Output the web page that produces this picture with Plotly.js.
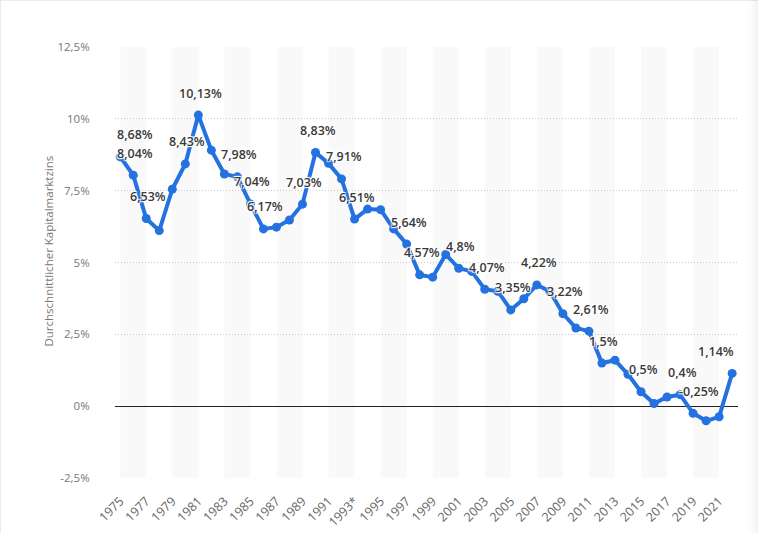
<!DOCTYPE html>
<html>
<head>
<meta charset="utf-8">
<script src="https://cdn.plot.ly/plotly-3.0.1.min.js"></script>
<style>
  html, body { margin: 0; padding: 0; background: #fff; }
  #chart { width: 758px; height: 533px; background: #fff;
    box-shadow: inset -14px 0 14px -14px rgba(0,0,0,0.10), inset 0 1px 0 #ececec, inset 1px 0 0 #ececec; }
</style>
</head>
<body>
<div id="chart"></div>
<script>
// ---- Data ----
const years = ['1975','1976','1977','1978','1979','1980','1981','1982','1983','1984',
  '1985','1986','1987','1988','1989','1990','1991','1992','1993*','1994',
  '1995','1996','1997','1998','1999','2000','2001','2002','2003','2004',
  '2005','2006','2007','2008','2009','2010','2011','2012','2013','2014',
  '2015','2016','2017','2018','2019','2020','2021','2022'];
const rates = [8.68, 8.04, 6.53, 6.11, 7.55, 8.43, 10.13, 8.91, 8.08, 7.98,
  7.04, 6.17, 6.23, 6.48, 7.03, 8.83, 8.45, 7.91, 6.51, 6.86,
  6.84, 6.17, 5.64, 4.57, 4.49, 5.28, 4.80, 4.69, 4.07, 4.00,
  3.35, 3.74, 4.22, 4.00, 3.22, 2.72, 2.61, 1.50, 1.60, 1.11,
  0.50, 0.09, 0.32, 0.40, -0.25, -0.51, -0.37, 1.14];
// years whose value is printed on the chart
const labelledYears = ['1975','1976','1977','1980','1981','1984','1985','1986','1989','1990',
  '1992','1993*','1997','1998','2001','2003','2005','2007','2009','2011',
  '2012','2015','2018','2019','2022'];
const yTickVals = [-2.5, 0, 2.5, 5, 7.5, 10, 12.5];
const yTickText = ['-2,5%', '0%', '2,5%', '5%', '7,5%', '10%', '12,5%'];
const yTitle = 'Durchschnittlicher Kapitalmarktzins';

// ---- Styling helpers ----
const labelXShift = {'1975': 15, '2019': 6, '2022': -16};
const fmt = v => (Math.round(v * 100) / 100).toString().replace('.', ',') + '%';

const annotations = labelledYears.map(y => {
  const i = years.indexOf(y);
  return {
    x: i, y: rates[i], xref: 'x', yref: 'y',
    text: fmt(rates[i]), showarrow: false,
    xshift: (y in labelXShift) ? labelXShift[y] : 2, yshift: 22,
    font: {family: 'Open Sans, sans-serif', size: 12.5, color: '#3a3a3a', weight: 600,
      shadow: '1px 1px 1px #fff, -1px -1px 1px #fff, 1px -1px 1px #fff, -1px 1px 1px #fff'}
  };
});
annotations.push({
  text: yTitle, textangle: -90, showarrow: false,
  xref: 'paper', yref: 'paper', x: -0.1075, y: 0.5255,
  xanchor: 'center', yanchor: 'middle',
  font: {family: 'Open Sans, sans-serif', size: 11.5, color: '#777'}
});

// alternating background bands (every other pair of years)
const shapes = [];
for (let i = 0; i + 2 <= years.length - 1; i += 4) {
  shapes.push({type: 'rect', xref: 'x', yref: 'y', x0: i, x1: i + 2, y0: -2.5, y1: 12.5,
    fillcolor: '#f9f9f9', line: {width: 0}, layer: 'below'});
}

const tickVals = years.filter((_, i) => i % 2 === 0);

const trace = {
  x: years, y: rates, type: 'scatter', mode: 'lines+markers',
  line: {color: '#2471e0', width: 4},
  marker: {color: '#2471e0', size: 9},
  hoverinfo: 'skip'
};

const layout = {
  width: 758, height: 533,
  margin: {l: 115, r: 20, t: 47, b: 55},
  paper_bgcolor: 'rgba(0,0,0,0)', plot_bgcolor: '#fff',
  showlegend: false,
  font: {family: 'Open Sans, sans-serif'},
  xaxis: {
    type: 'category', range: [-0.4, 47.45],
    tickmode: 'array', tickvals: tickVals, ticktext: tickVals,
    tickangle: -45, tickfont: {size: 12.5, color: '#666'},
    showgrid: false, zeroline: false, showline: false,
    ticks: 'outside', ticklen: 10, tickcolor: 'rgba(0,0,0,0)'
  },
  yaxis: {
    range: [-2.5, 12.5], tickmode: 'array', tickvals: yTickVals, ticktext: yTickText,
    tickfont: {size: 11.5, color: '#777'},
    ticks: 'outside', ticklen: 22, tickcolor: 'rgba(0,0,0,0)',
    showgrid: true, gridcolor: '#c8c8c8', griddash: '1px,2px', gridwidth: 1,
    zeroline: true, zerolinecolor: '#222', zerolinewidth: 1,
    showline: false
  },
  shapes: shapes,
  annotations: annotations
};

Plotly.newPlot('chart', [trace], layout, {displayModeBar: false, staticPlot: true});
</script>
</body>
</html>
